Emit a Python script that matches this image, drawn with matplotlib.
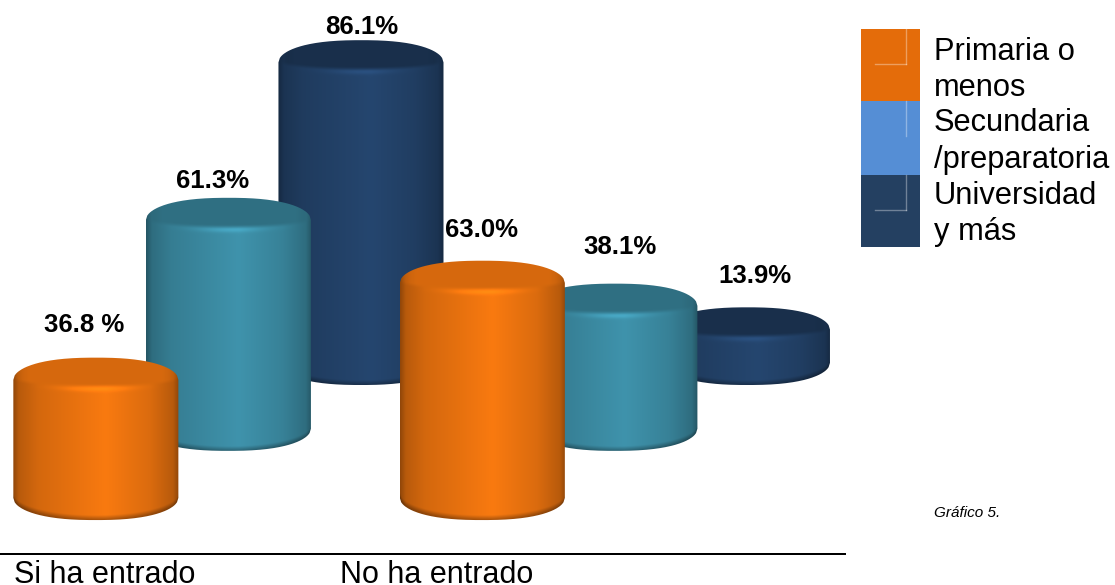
import numpy as np
import matplotlib
matplotlib.use('Agg')
import matplotlib.pyplot as plt
from matplotlib.path import Path
from matplotlib.patches import Rectangle
from matplotlib.colors import to_rgb

# Data
categories = ["Si ha entrado", "No ha entrado"]
series = ["Primaria o\nmenos", "Secundaria\n/preparatoria", "Universidad\ny más"]
primaria = [36.8, 63.0]
secundaria = [61.3, 38.1]
universidad = [86.1, 13.9]
labels_primaria = ["36.8 %", "63.0%"]
labels_secundaria = ["61.3%", "38.1%"]
labels_universidad = ["86.1%", "13.9%"]

# Colours of the cylinders and the legend
bright = ['#F97A10', '#3F93AC', '#25466F']
cap_factor = [0.86, 0.76, 0.68]
legend_colors = ['#E46C0A', '#558ED5', '#244061']

# Layout of the fake 3D scene
FLOOR = 4.9
CAP = 6.0       # half height of the ellipses, in value units
WIDTH = 0.427   # cylinder width, in category units
offsets = [-0.343, 0.0, 0.343]
depths = [0.0, 18.7, 36.5]

plt.rcParams['font.family'] = ['Liberation Sans', 'DejaVu Sans']

fig = plt.figure(figsize=(11.15, 5.85), dpi=100)
ax = fig.add_axes([0, 0, 1, 1])
ax.set_xlim(-0.591, 2.294)
ax.set_ylim(-18.65, 139.46)
ax.axis('off')


def cylinder(xc, value, depth, color, cap_f, z):
    top = value + depth
    base = FLOOR + depth
    x0, x1 = xc - WIDTH / 2, xc + WIDTH / 2
    ylo, yhi = base - CAP - 0.5, top + CAP + 0.5

    # outline with rounded shoulders
    t = np.linspace(-1, 1, 121)
    edge = (1 - np.abs(t) ** 2.4) ** 0.5
    px = np.concatenate([xc + t * WIDTH / 2, xc - t * WIDTH / 2])
    py = np.concatenate([base - CAP * edge, (top + CAP * edge)[::-1]])
    outline = Path(np.column_stack([px, py]))

    # shading
    u = np.linspace(-1, 1, 340)
    v = np.linspace(ylo, yhi, max(int((yhi - ylo) * 7.4), 20))
    U, V = np.meshgrid(u, v)
    side = np.interp(U, [-1, -0.93, -0.7, 0.12, 0.65, 0.93, 1],
                     [0.58, 0.74, 0.85, 1.0, 0.88, 0.74, 0.58])
    shade = side.copy()

    # lip of the top ellipse and the cap above it
    front = top - CAP * 0.38 * np.sqrt(np.clip(1 - U ** 2, 0, 1))
    cap = np.clip((V - front) / 1.0, 0, 1) * np.clip((1 - np.abs(U)) / 0.12, 0, 1)
    shade = shade * (1 - cap) + cap * cap_f * np.interp(U, [-1, -0.8, 0.8, 1], [0.9, 1, 1, 0.9])
    lip = np.exp(-((V - front + 0.3) / 0.7) ** 2) * np.exp(-((U - 0.0) / 0.4) ** 2)
    shade = shade + 0.16 * lip

    # dark rim at the bottom
    low = base - CAP * np.sqrt(np.clip(1 - U ** 2, 0, 1))
    rim = np.clip(1 - (V - low) / 1.3, 0, 1)
    shade = shade * (1 - 0.32 * rim)

    rgb = np.clip(np.array(to_rgb(color))[None, None, :] * shade[:, :, None], 0, 1)
    im = ax.imshow(rgb, extent=[x0, x1, ylo, yhi], origin='lower', aspect='auto',
                   interpolation='bilinear', zorder=z)
    im.set_clip_path(outline, transform=ax.transData)


values = [primaria, secundaria, universidad]
# back row first, the nearer groups and series go on top
for g in range(len(categories)):
    for s in [2, 1, 0]:
        cylinder(g + offsets[s], values[s][g], depths[s], bright[s], cap_factor[s], 2 + g * 3 + (2 - s))
ax.set_xlim(-0.591, 2.294)
ax.set_ylim(-18.65, 139.46)

# Value labels, shifted in pixels from the middle of each top
label_text = [labels_primaria, labels_secundaria, labels_universidad]
label_dx = [[-12, -1], [-16, 5], [1, 7]]
label_dy = [[55, 53], [39, 59], [35, 54]]
for s in range(3):
    for g in range(2):
        ax.annotate(label_text[s][g], xy=(g + offsets[s], values[s][g] + depths[s]),
                    xytext=(label_dx[s][g], label_dy[s][g]), textcoords='offset pixels',
                    ha='center', va='center', fontsize=18.5, fontweight='bold',
                    color='black', zorder=20)

# Base line and category names
ax.plot([-0.591, 1.597], [-10.27, -10.27], color='black', lw=1.44, zorder=1, solid_capstyle='butt')
ax.text(-0.556, -18.1, categories[0], fontsize=22, ha='left', va='baseline', color='black')
ax.text(0.2885, -18.1, categories[1], fontsize=22, ha='left', va='baseline', color='black')

# Legend, drawn by hand in figure pixels
W, H = 1115.0, 585.0
sw_top = [29, 101, 175]
sw_bot = [101, 175, 247]
txt_y = [70, 141.5, 214]
for i in range(3):
    fig.add_artist(Rectangle((861 / W, 1 - sw_bot[i] / H), 59 / W, (sw_bot[i] - sw_top[i]) / H,
                             transform=fig.transFigure, facecolor=legend_colors[i], edgecolor='none'))
    fig.add_artist(plt.Line2D([906 / W, 906 / W], [1 - sw_top[i] / H, 1 - (sw_top[i] + 35) / H],
                              transform=fig.transFigure, color='white', alpha=0.35, lw=1))
    if i != 1:
        fig.add_artist(plt.Line2D([875 / W, 906 / W], [1 - (sw_top[i] + 35) / H] * 2,
                                  transform=fig.transFigure, color='white', alpha=0.35, lw=1))
    fig.text(934 / W, 1 - txt_y[i] / H, series[i], fontsize=22.2, ha='left', va='center',
             linespacing=1.27, color='black')

fig.text(1000 / W, 1 - 513 / H, "Gráfico 5.", fontsize=11, style='italic', ha='right', va='center',
         color='black')

plt.savefig('out.png', dpi=100)
